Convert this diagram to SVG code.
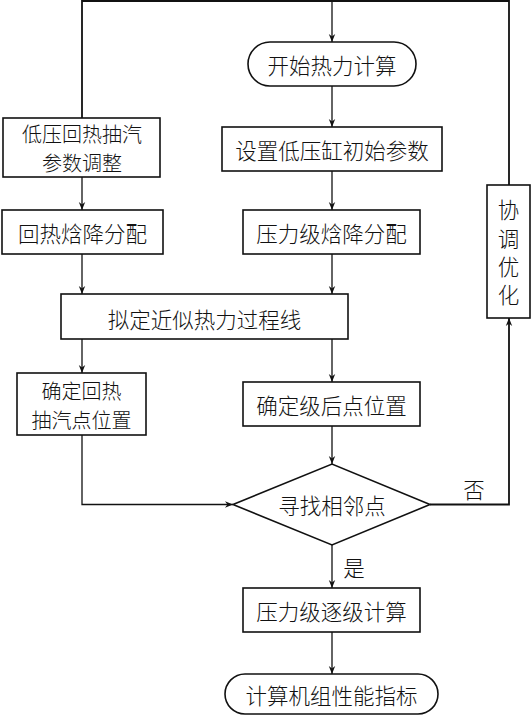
<svg xmlns="http://www.w3.org/2000/svg" width="532" height="715" viewBox="0 0 532 715">
<style>
.b{fill:#fff;stroke:#111;stroke-width:1.6}
.t{font-family:"Noto Sans CJK SC","Noto Sans CJK JP",sans-serif;font-size:21.5px;font-weight:300;fill:#111;text-anchor:middle;dominant-baseline:central}
.s{font-size:20px}
.c{fill:none;stroke:#111;stroke-width:1.3}
</style>
<defs>
<marker id="a" viewBox="0 0 10 10" refX="10" refY="5" markerWidth="8" markerHeight="8" markerUnits="userSpaceOnUse" orient="auto">
<path d="M0,1 L10,5 L0,9 L3,5 Z" fill="#111"/>
</marker>
</defs>
<rect width="532" height="715" fill="#fff"/>
<g id="connectors">
<polyline class="c" points="82,118 82,1 509,1 509,185" marker-start="url(#a)" style="stroke-width:1.8"/>
<line class="c" x1="332" y1="1" x2="332" y2="42" marker-end="url(#a)"/>
<line class="c" x1="332" y1="86" x2="332" y2="127" marker-end="url(#a)"/>
<line class="c" x1="332" y1="171" x2="332" y2="210" marker-end="url(#a)"/>
<line class="c" x1="82" y1="177" x2="82" y2="210" marker-end="url(#a)"/>
<line class="c" x1="82" y1="254" x2="82" y2="294" marker-end="url(#a)"/>
<line class="c" x1="332" y1="254" x2="332" y2="294" marker-end="url(#a)"/>
<line class="c" x1="82" y1="339" x2="82" y2="373" marker-end="url(#a)"/>
<line class="c" x1="332" y1="339" x2="332" y2="382" marker-end="url(#a)"/>
<polyline class="c" points="82,435 82,504.5 233,504.5" marker-end="url(#a)"/>
<line class="c" x1="332" y1="426" x2="332" y2="464" marker-end="url(#a)"/>
<polyline class="c" points="430,504.5 509,504.5 509,318" marker-end="url(#a)" style="stroke-width:1.8"/>
<line class="c" x1="332" y1="545" x2="332" y2="588" marker-end="url(#a)"/>
<line class="c" x1="332" y1="632" x2="332" y2="674" marker-end="url(#a)"/>
<text class="t" x="474" y="488">否</text>
<text class="t" x="354" y="566">是</text>
</g>
<g id="start">
<rect class="b" x="248" y="42" width="168" height="44" rx="22"/>
<text class="t" x="332" y="64">开始热力计算</text>
</g>
<g id="setInit">
<rect class="b" x="222" y="127" width="220" height="44"/>
<text class="t" x="332" y="149">设置低压缸初始参数</text>
</g>
<g id="lpAdjust">
<rect class="b" x="3" y="118" width="157" height="59"/>
<text class="t s" x="82" y="133">低压回热抽汽</text>
<text class="t s" x="82" y="162">参数调整</text>
</g>
<g id="coord">
<rect class="b" x="487" y="185" width="43" height="133"/>
<text class="t" x="508.5" y="208">协</text>
<text class="t" x="508.5" y="237">调</text>
<text class="t" x="508.5" y="265">优</text>
<text class="t" x="508.5" y="293">化</text>
</g>
<g id="regenDist">
<rect class="b" x="2" y="210" width="161" height="44"/>
<text class="t" x="82.5" y="232">回热焓降分配</text>
</g>
<g id="stageDist">
<rect class="b" x="243" y="210" width="177" height="44"/>
<text class="t" x="331.5" y="232">压力级焓降分配</text>
</g>
<g id="processLine">
<rect class="b" x="61" y="294" width="287" height="45"/>
<text class="t" x="204.5" y="318">拟定近似热力过程线</text>
</g>
<g id="extractPoint">
<rect class="b" x="17" y="373" width="129" height="62"/>
<text class="t s" x="81.5" y="390">确定回热</text>
<text class="t s" x="81.5" y="419">抽汽点位置</text>
</g>
<g id="stagePoint">
<rect class="b" x="243" y="382" width="177" height="44"/>
<text class="t" x="331.5" y="404">确定级后点位置</text>
</g>
<g id="findAdj">
<polygon class="b" points="233,504.5 332,464 430,504.5 332,545"/>
<text class="t" x="332" y="504">寻找相邻点</text>
</g>
<g id="stageCalc">
<rect class="b" x="243" y="588" width="177" height="44"/>
<text class="t" x="331.5" y="610">压力级逐级计算</text>
</g>
<g id="end">
<rect class="b" x="225" y="674" width="213" height="40" rx="20"/>
<text class="t" x="331.5" y="694">计算机组性能指标</text>
</g>
</svg>
